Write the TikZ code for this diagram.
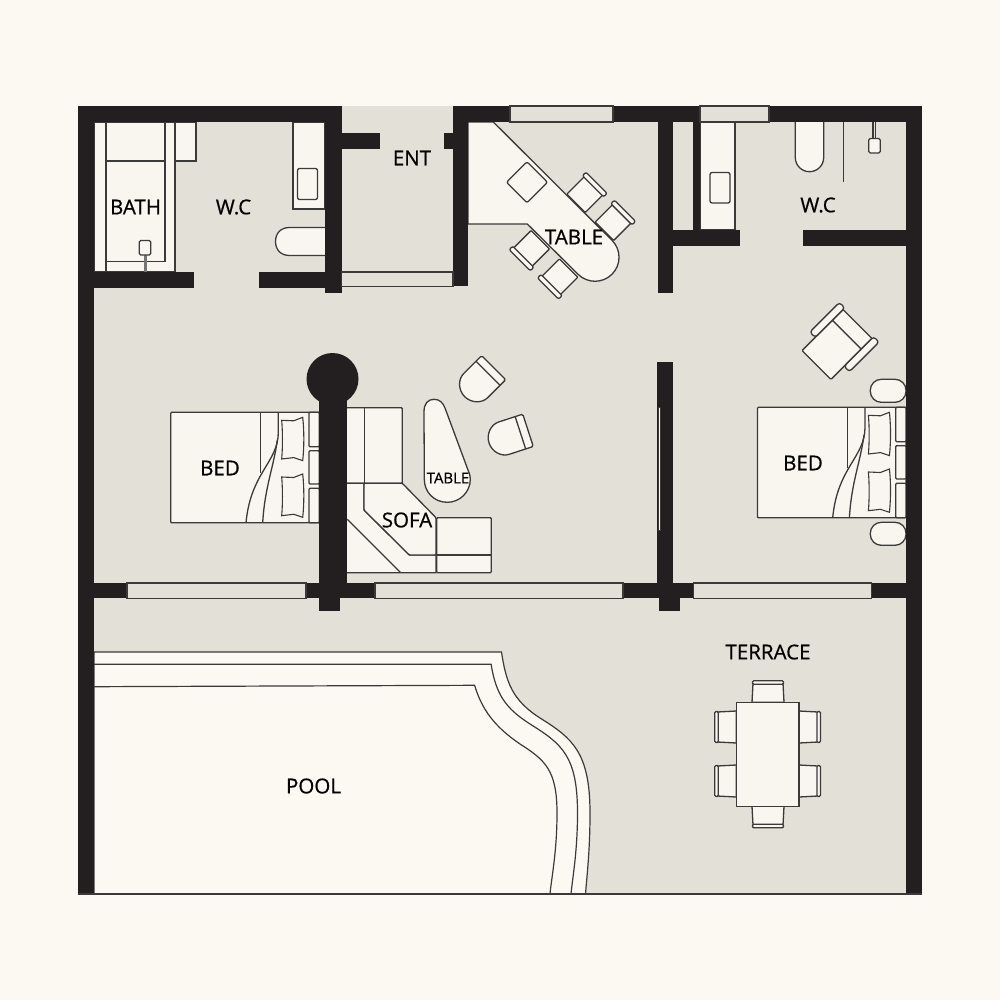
\documentclass[tikz,border=0pt]{standalone}
\usepackage{fontspec}
\setmainfont{Open Sans}
\newfontfamily\labelfont[RawFeature={embolden=0.7}]{Open Sans}
\usepackage{tikz}
\usepackage{xcolor}
\usetikzlibrary{
    calc,
    positioning
}
\definecolor{paper}{HTML}{FCF9F2}
\definecolor{floorgrey}{HTML}{E3E0D8}
\definecolor{wallblack}{HTML}{231F20}
\definecolor{fitting}{HTML}{F9F6EF}
\definecolor{edgegrey}{HTML}{3A3A3A}
\tikzset{
    wall/.style={fill=wallblack},
    glazing/.style={fill=floorgrey,draw=edgegrey,line width=1.1pt},
    fitted/.style={fill=fitting,draw=edgegrey,line width=1.3pt},
    poolline/.style={fill=paper,draw=edgegrey,line width=1.2pt},
    lbl/.style={inner sep=0pt,text=black,font=\labelfont\fontsize{20.5}{24}\selectfont},
    smalllbl/.style={inner sep=0pt,text=black,font=\labelfont\fontsize{15}{18}\selectfont}
}
\newcommand{\dinechair}[3]{
    \begin{scope}[shift={(#1,#2)},rotate=#3]
        \draw[fitted,rounded corners=0.8pt] (-14.5,-13) rectangle (12,13);
        \draw[fitted,rounded corners=2pt] (9.5,-15) rectangle (14.5,15);
    \end{scope}
}
\newcommand{\loungechair}[3]{
    \begin{scope}[shift={(#1,#2)},rotate=#3]
        \draw[fitted,rounded corners=1.5pt] (20,-17) -- (-4,-17) arc[start angle=90,end angle=270,radius=17pt] -- (20,17) -- cycle;
        \draw[fitted] (12,-17) -- (12,17);
    \end{scope}
}
\newcommand{\terracechair}[3]{
    \begin{scope}[shift={(#1,#2)},rotate=#3]
        \draw[fitted] (0,-16) -- (19,-15) -- (19,15) -- (0,16) -- cycle;
        \draw[fitted,rounded corners=1.2pt] (18,-15.5) rectangle (21.5,15.5);
    \end{scope}
}
\newcommand{\pillow}[1]{
    \draw[fitted,line width=1.1pt,shift={(0,#1)}] (111,8) -- (123,8.5) -- (132,5) .. controls (133.5,18) and (133.5,35) .. (132,48.3) -- (123,45.3) -- (111,46.7) .. controls (112,35) and (112,20) .. (111,8) -- cycle;
}
\newcommand{\bedgroup}[2]{
    \begin{scope}[shift={(#1,#2)}]
        \draw[fitted,rounded corners=1pt] (0,0) rectangle (148.6,110.5);
        \draw[fitted] (90,0) -- (90,61);
        \draw[fitted,fill=none] (107.6,0) -- (107.6,20) .. controls (107.6,50) and (80,60) .. (75.3,110.4);
        \draw[fitted,fill=none] (106.6,27.7) .. controls (103,55) and (94,75) .. (92,110.4);
        \pillow{0}
        \pillow{56.7}
        \draw[fitted,rounded corners=1pt] (138.3,0) rectangle (148.6,34.4);
        \draw[fitted,rounded corners=1pt] (138.3,38.4) rectangle (148.6,71.7);
        \draw[fitted,rounded corners=1pt] (138.3,76) rectangle (148.6,110.4);
    \end{scope}
}
\begin{document}
\begin{tikzpicture}[x=1pt,y=-1pt]
    \useasboundingbox (0,0) rectangle (1000,1000);
    \fill[paper] (0,0) rectangle (1000,1000);
    \fill[floorgrey] (78,106) rectangle (922,894);
    % pool
    \draw[poolline] (94,652) -- (501.5,652) .. controls (506,682) and (512,700) .. (540,718) .. controls (572,738) and (590,752) .. (590,813) .. controls (590,850) and (587,875) .. (585.5,893.6) -- (94,893.6) -- cycle;
    \draw[poolline,fill=none] (94,664.3) -- (491.1,664.3) .. controls (496,694) and (505,708) .. (530,724) .. controls (562,744) and (577.5,756) .. (577.5,813) .. controls (577.5,850) and (573,875) .. (571,893.6);
    \draw[poolline,fill=none] (94,686.7) -- (474.6,685.3) .. controls (482,710) and (495,727) .. (520,744) .. controls (545,760) and (557,770) .. (557,813) .. controls (557,850) and (552,875) .. (550,893.6);
    % left wc and bath
    \draw[fitted] (94,122) rectangle (106,272);
    \draw[fitted] (106,122) rectangle (175,272);
    \draw[fitted] (106,122) rectangle (165,261.5);
    \draw[fitted] (106,161) -- (165,161);
    \draw[fitted] (175,122) rectangle (196,161);
    \fill[edgegrey!70] (143.5,255) rectangle (147,272);
    \draw[fitted,rounded corners=1.5pt] (139.3,240.5) rectangle (150.7,255);
    \draw[fitted] (293,122) rectangle (325,209);
    \draw[fitted,rounded corners=2pt] (297.5,168.5) rectangle (317.5,199.5);
    \draw[fitted] (325,227.5) -- (289.5,227.5) .. controls (281,227.5) and (275.5,233) .. (275.5,241.5) .. controls (275.5,250) and (281,255.5) .. (289.5,255.5) -- (325,255.5);
    % kitchen
    \dinechair{586.3}{193}{45}
    \dinechair{614.7}{221}{45}
    \dinechair{530}{250}{225}
    \dinechair{558.3}{278.3}{225}
    \draw[fitted] (468,122) -- (493.3,122) -- (612,240.3) arc[start angle=45,end angle=-135,radius=24pt] -- (527.3,224) -- (468,224) -- cycle;
    \draw[fitted,rounded corners=2pt] (527,161.8) -- (547.5,182.3) -- (527,202.8) -- (506.5,182.3) -- cycle;
    % right wc
    \draw[fitted] (700,122) rectangle (735,230);
    \draw[fitted,rounded corners=2pt] (710,172.5) rectangle (730,203);
    \draw[fitted] (795.3,122) -- (795.3,157.5) arc[start angle=180,end angle=360,radius=14.2pt] -- (823.7,122);
    \draw[fitted] (843.5,122) -- (843.5,182.5);
    \draw[fitted] (873,122) -- (873,138.5) (875.5,122) -- (875.5,138.5);
    \draw[fitted,rounded corners=1.5pt] (868.7,138.5) rectangle (880.3,153);
    % beds and side tables
    \bedgroup{170.7}{412.3}
    \bedgroup{757.4}{407.3}
    \draw[fitted,rounded corners=11pt] (870.3,379.3) rectangle (906,402.3);
    \draw[fitted,rounded corners=11pt] (870.3,522.3) rectangle (906,545.3);
    \begin{scope}[shift={(831.7,349.8)},rotate=45]
        \draw[fitted,rounded corners=1pt] (-21.5,-20.4) rectangle (21.5,20.4);
        \draw[fitted] (21.5,-20.4) rectangle (36.5,20.4);
        \draw[fitted,rounded corners=3pt] (-3,-28) rectangle (39,-20.4);
        \draw[fitted,rounded corners=3pt] (-3,20.4) rectangle (39,28);
    \end{scope}
    % sofa
    \draw[fitted,rounded corners=1pt] (346,407.7) rectangle (402.3,483.3);
    \draw[fitted] (364.3,407.7) -- (364.3,483.3);
    \draw[fitted] (346,483.3) -- (364,483.3) -- (364,510) -- (409.3,555) -- (436,555) -- (436,572.7) -- (346,572.7) -- cycle;
    \draw[fitted] (347.3,519.3) -- (400.7,572.7);
    \draw[fitted,rounded corners=1pt] (364,483.3) -- (402.3,483.3) -- (436,517.7) -- (436,555) -- (409.3,555) -- (364,510) -- cycle;
    \draw[fitted,rounded corners=1pt] (436.7,517.7) rectangle (491.3,572.7);
    \draw[fitted] (436.7,555) -- (491.3,555);
    \draw[fitted] (424.3,479.3) -- (424,411.7) .. controls (424,403.5) and (428,399.3) .. (434,399.3) .. controls (440,399.3) and (443,403) .. (445,408) -- (468,470) .. controls (469.6,473) and (470.3,476) .. (470.3,479.3) .. controls (470.3,492) and (460,502.3) .. (447.3,502.3) .. controls (434,502.3) and (424.3,492) .. (424.3,479.3) -- cycle;
    \loungechair{479.5}{381.8}{45}
    \loungechair{509}{436.5}{18}
    % terrace set
    \terracechair{799}{727}{0}
    \terracechair{799}{781}{0}
    \terracechair{736.3}{727}{180}
    \terracechair{736.3}{781}{180}
    \terracechair{768}{702.3}{90}
    \terracechair{768}{806.3}{270}
    \draw[fitted] (736.3,702.3) rectangle (799,806.3);
    % walls
    \fill[wall] (78,106) rectangle (94,894);
    \fill[wall] (906,106) rectangle (922,894);
    \fill[wall] (78,106) rectangle (341.5,122);
    \fill[wall] (453,106) rectangle (510,122);
    \fill[wall] (613,106) rectangle (700,122);
    \fill[wall] (769,106) rectangle (922,122);
    \fill[wall] (325,106) rectangle (341.5,293);
    \fill[wall] (341,133) rectangle (380,149);
    \fill[wall] (444,133) rectangle (453,149);
    \fill[wall] (453,106) rectangle (468,286);
    \fill[wall] (94,272) rectangle (194,288);
    \fill[wall] (259,272) rectangle (325,288);
    \fill[wall] (657.7,106) rectangle (673,293);
    \fill[wall] (692.7,122) rectangle (700,230);
    \fill[wall] (673,230) rectangle (740,246);
    \fill[wall] (803,230) rectangle (906,246);
    \fill[wall] (332.5,379) circle[radius=26pt];
    \fill[wall] (319.3,379) rectangle (346.7,583);
    \fill[wall] (319.3,583) rectangle (340,610.5);
    \fill[wall] (94,583) rectangle (127,598.3);
    \fill[wall] (306,583) rectangle (375,598.3);
    \fill[wall] (623,583) rectangle (693.3,598.3);
    \fill[wall] (871.7,583) rectangle (906,598.3);
    \fill[wall] (659.3,598) rectangle (680,610.5);
    \fill[wall] (657.3,361.7) rectangle (673.3,583);
    % windows
    \draw[glazing] (510,106) rectangle (613,122);
    \draw[glazing] (700,106) rectangle (769,122);
    \draw[glazing] (127,583) rectangle (306,598.3);
    \draw[glazing] (375,583) rectangle (623,598.3);
    \draw[glazing] (693.3,583) rectangle (871.7,598.3);
    \draw[glazing] (341.5,272) rectangle (453,286.5);
    \draw[fitted,line width=0.6pt] (658.2,407.3) rectangle (660.6,530);
    \draw[edgegrey,line width=1.2pt] (78,894) -- (922,894);
    % labels
    \node[lbl] (bathname) at (135.5,207) {BATH};
    \node[lbl] (leftwc) at (233.5,207) {W.C};
    \node[lbl] (entname) at (412,158) {ENT};
    \node[lbl] (kitchentable) at (574,237) {TABLE};
    \node[lbl] (rightwc) at (818,205) {W.C};
    \node[lbl] (terracename) at (768,652) {TERRACE};
    \node[lbl] (leftbed) at (220,468) {BED};
    \node[lbl] (rightbed) at (803,463) {BED};
    \node[lbl] (sofaname) at (407,520) {SOFA};
    \node[smalllbl] (lowtable) at (448,478) {TABLE};
    \node[lbl] (poolname) at (313.5,786) {POOL};
\end{tikzpicture}
\end{document}
